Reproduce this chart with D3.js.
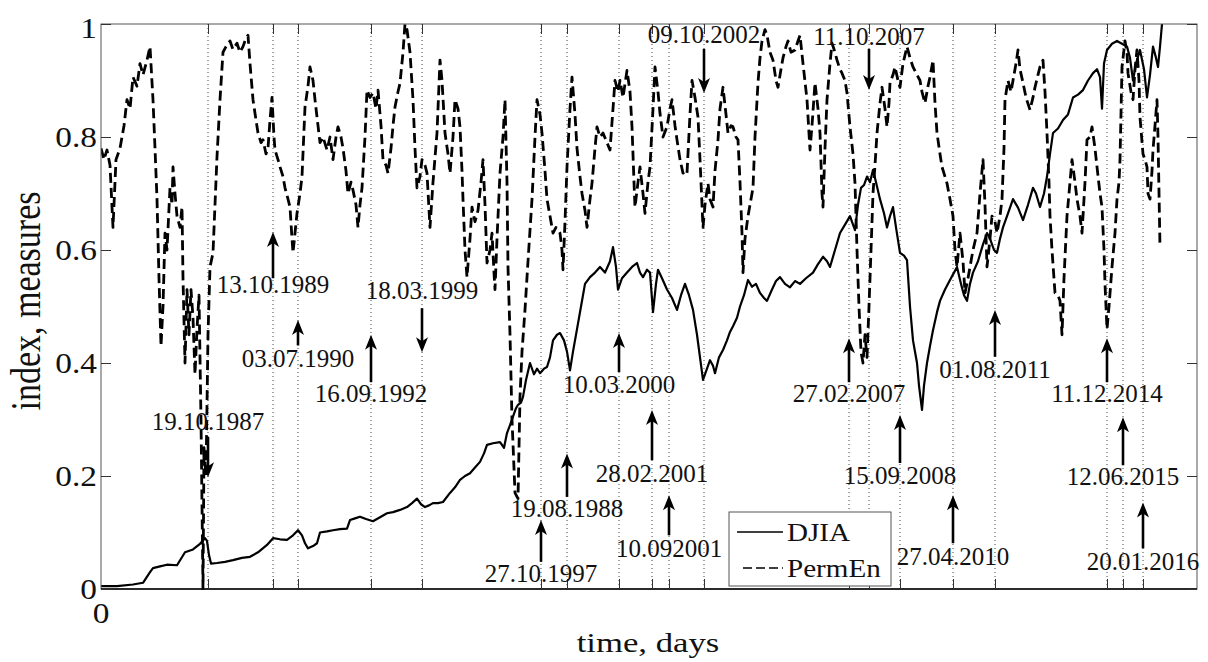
<!DOCTYPE html>
<html>
  <head>
    <script src="https://d3js.org/d3.v7.min.js"></script>
    <style>
      body { margin: 0; background: #fff; }
      text { font-family: "Liberation Serif", "Times New Roman", serif; fill: #111; }
      .grid line { stroke: #444; stroke-dasharray: 1 3; stroke-width: 1; }
      .date-label { font-size: 25px; text-anchor: middle; }
    </style>
  </head>
  <body>
    <svg id="chart" width="1208" height="662"></svg>
    <script>
      // ---- data (time in days, values normalised 0..1) ----
      const xMax = 8768;
      const yTicks = [0, 0.2, 0.4, 0.6, 0.8, 1];

      const djiaDays = [0,128,256,336,392,416,472,528,608,672,736,792,832,848,864,880,928,992,1056,1128,1192,1256,1328,1376,1432,1488,1536,1576,1608,1632,1656,1696,1728,1752,1808,1856,1912,1968,1992,2032,2072,2120,2176,2232,2288,2336,2392,2448,2488,2528,2560,2592,2624,2656,2696,2736,2792,2832,2872,2912,2952,2992,3032,3064,3088,3136,3192,3224,3248,3272,3296,3320,3336,3360,3376,3400,3432,3464,3488,3512,3544,3568,3592,3616,3648,3672,3704,3728,3752,3776,3808,3840,3872,3912,3952,3992,4032,4072,4096,4120,4136,4168,4208,4248,4288,4312,4336,4368,4392,4416,4440,4456,4488,4528,4568,4608,4640,4672,4704,4736,4768,4792,4816,4848,4872,4896,4912,4944,4976,5008,5032,5056,5088,5112,5144,5176,5208,5240,5272,5304,5328,5368,5400,5432,5472,5512,5552,5592,5640,5696,5736,5776,5808,5832,5872,5912,5952,5992,6016,6032,6056,6080,6104,6128,6152,6176,6200,6232,6264,6288,6312,6336,6360,6392,6424,6448,6472,6496,6512,6528,6544,6568,6584,6608,6632,6656,6688,6712,6752,6792,6824,6848,6880,6904,6928,6952,6976,7016,7056,7088,7112,7144,7168,7192,7216,7256,7296,7336,7376,7416,7456,7480,7512,7544,7568,7592,7616,7656,7696,7736,7776,7816,7856,7896,7936,7968,7992,8008,8024,8048,8088,8128,8168,8208,8232,8256,8280,8312,8344,8368,8392,8416,8440,8456,8472,8488];
      const djiaVals = [0.005,0.005,0.008,0.011,0.03,0.037,0.04,0.043,0.042,0.065,0.07,0.08,0.09,0.085,0.06,0.045,0.046,0.048,0.051,0.055,0.057,0.065,0.078,0.09,0.088,0.087,0.095,0.104,0.095,0.081,0.072,0.076,0.081,0.1,0.102,0.104,0.106,0.107,0.122,0.125,0.128,0.124,0.12,0.127,0.134,0.136,0.14,0.145,0.152,0.16,0.15,0.145,0.148,0.152,0.152,0.154,0.17,0.18,0.193,0.2,0.205,0.215,0.225,0.24,0.255,0.258,0.26,0.25,0.276,0.29,0.305,0.32,0.326,0.33,0.34,0.37,0.4,0.38,0.39,0.382,0.39,0.393,0.41,0.44,0.45,0.453,0.44,0.42,0.387,0.42,0.46,0.5,0.54,0.552,0.56,0.57,0.56,0.58,0.605,0.57,0.53,0.55,0.56,0.57,0.577,0.56,0.552,0.565,0.56,0.49,0.54,0.565,0.55,0.53,0.515,0.494,0.52,0.54,0.52,0.494,0.45,0.41,0.37,0.39,0.405,0.395,0.382,0.41,0.423,0.44,0.455,0.465,0.48,0.5,0.52,0.547,0.535,0.54,0.524,0.515,0.51,0.53,0.545,0.552,0.54,0.534,0.545,0.54,0.55,0.56,0.575,0.588,0.58,0.57,0.6,0.63,0.645,0.66,0.645,0.635,0.68,0.71,0.715,0.73,0.72,0.742,0.72,0.69,0.665,0.64,0.66,0.676,0.64,0.595,0.59,0.582,0.5,0.44,0.42,0.4,0.36,0.317,0.36,0.4,0.43,0.458,0.49,0.51,0.53,0.547,0.56,0.57,0.54,0.52,0.51,0.54,0.56,0.58,0.61,0.63,0.62,0.6,0.595,0.62,0.64,0.665,0.69,0.675,0.653,0.68,0.71,0.7,0.676,0.7,0.73,0.77,0.807,0.815,0.83,0.84,0.87,0.875,0.883,0.9,0.913,0.92,0.906,0.85,0.93,0.954,0.965,0.97,0.965,0.96,0.94,0.9,0.93,0.954,0.92,0.87,0.91,0.96,0.94,0.924,0.96,1.0];

      const permDays = [0,24,48,72,96,120,152,184,208,232,256,288,312,336,368,392,416,432,448,464,480,496,512,528,552,568,576,592,608,632,648,656,672,688,704,720,736,752,768,784,800,816,824,840,856,872,896,912,928,952,976,1000,1032,1056,1088,1112,1136,1160,1176,1192,1216,1240,1256,1280,1296,1320,1336,1352,1368,1384,1392,1416,1432,1456,1472,1496,1512,1528,1536,1552,1568,1592,1608,1632,1656,1672,1696,1712,1736,1752,1776,1808,1832,1856,1880,1896,1920,1936,1960,1976,2000,2016,2040,2056,2072,2088,2112,2128,2152,2176,2200,2216,2240,2256,2280,2296,2320,2336,2352,2376,2392,2416,2432,2448,2472,2496,2512,2528,2552,2568,2592,2608,2632,2656,2688,2712,2728,2752,2776,2792,2816,2832,2856,2872,2888,2896,2912,2928,2952,2968,2992,3016,3040,3056,3072,3088,3112,3128,3144,3152,3168,3192,3216,3232,3248,3256,3272,3288,3312,3336,3352,3368,3392,3416,3448,3472,3488,3512,3528,3552,3568,3592,3616,3640,3672,3688,3696,3712,3728,3752,3768,3792,3808,3832,3848,3872,3888,3912,3928,3952,3968,3992,4016,4048,4072,4096,4112,4136,4152,4176,4208,4232,4248,4264,4272,4296,4312,4336,4352,4376,4392,4416,4432,4456,4472,4496,4528,4552,4568,4592,4608,4632,4656,4680,4688,4712,4728,4752,4776,4792,4816,4832,4856,4872,4896,4912,4936,4952,4976,5000,5016,5040,5056,5080,5096,5112,5128,5136,5152,5176,5192,5216,5232,5256,5272,5288,5312,5328,5352,5376,5400,5416,5440,5456,5480,5496,5520,5552,5576,5592,5616,5648,5672,5688,5712,5736,5752,5768,5776,5792,5808,5832,5848,5872,5888,5912,5928,5952,5968,5992,6016,6032,6048,6064,6080,6096,6112,6128,6144,6160,6176,6192,6208,6232,6248,6272,6288,6304,6312,6336,6352,6376,6392,6416,6448,6472,6496,6528,6552,6568,6592,6616,6632,6656,6672,6688,6712,6728,6752,6768,6792,6816,6832,6848,6872,6896,6912,6936,6952,6976,7008,7032,7056,7072,7088,7112,7128,7152,7168,7192,7208,7224,7232,7256,7280,7296,7320,7336,7352,7376,7400,7432,7456,7472,7496,7512,7536,7552,7568,7584,7592,7608,7632,7656,7672,7688,7704,7728,7752,7768,7792,7808,7832,7848,7872,7888,7912,7928,7952,7968,7992,8008,8024,8032,8048,8064,8088,8112,8128,8144,8152,8168,8192,8208,8216,8240,8256,8272,8288,8304,8312,8336,8352,8368,8376,8392,8408,8416,8432,8448,8456,8472];
      const permVals = [0.78,0.76,0.777,0.75,0.64,0.76,0.78,0.82,0.866,0.85,0.906,0.89,0.93,0.91,0.936,0.96,0.866,0.78,0.69,0.55,0.43,0.5,0.63,0.6,0.71,0.68,0.747,0.7,0.66,0.64,0.676,0.55,0.4,0.53,0.45,0.53,0.48,0.38,0.46,0.52,0.3,0,0.25,0.2,0.45,0.57,0.595,0.68,0.765,0.866,0.95,0.96,0.97,0.955,0.966,0.95,0.96,0.975,0.98,0.93,0.866,0.83,0.807,0.79,0.795,0.77,0.78,0.83,0.87,0.8,0.777,0.76,0.747,0.73,0.71,0.69,0.676,0.62,0.595,0.63,0.665,0.7,0.73,0.853,0.89,0.924,0.9,0.866,0.82,0.79,0.8,0.777,0.8,0.76,0.8,0.818,0.8,0.78,0.74,0.7,0.72,0.706,0.68,0.64,0.68,0.71,0.8,0.883,0.87,0.878,0.85,0.883,0.82,0.76,0.75,0.736,0.78,0.82,0.853,0.88,0.895,0.95,1.0,0.99,0.95,0.866,0.78,0.71,0.73,0.76,0.75,0.736,0.64,0.72,0.807,0.936,0.9,0.807,0.77,0.736,0.8,0.866,0.85,0.818,0.74,0.69,0.6,0.552,0.62,0.676,0.65,0.67,0.72,0.76,0.68,0.577,0.6,0.63,0.56,0.53,0.62,0.736,0.8,0.866,0.72,0.57,0.45,0.3,0.17,0.16,0.34,0.42,0.494,0.58,0.69,0.8,0.866,0.84,0.807,0.74,0.69,0.66,0.63,0.64,0.63,0.6,0.565,0.65,0.747,0.85,0.906,0.84,0.78,0.73,0.7,0.67,0.64,0.69,0.718,0.78,0.818,0.8,0.807,0.79,0.777,0.85,0.9,0.88,0.9,0.87,0.918,0.88,0.818,0.72,0.676,0.72,0.747,0.7,0.665,0.72,0.747,0.85,0.924,0.88,0.842,0.8,0.818,0.85,0.866,0.82,0.795,0.76,0.736,0.74,0.736,0.84,0.9,0.87,0.835,0.76,0.64,0.68,0.718,0.69,0.676,0.74,0.795,0.85,0.888,0.84,0.807,0.82,0.818,0.8,0.795,0.72,0.63,0.56,0.62,0.66,0.68,0.71,0.8,0.896,0.94,0.97,0.99,0.98,0.95,0.936,0.9,0.888,0.92,0.94,0.96,0.97,0.95,0.954,0.97,0.98,0.93,0.866,0.777,0.82,0.896,0.85,0.807,0.7,0.676,0.78,0.866,0.93,0.966,0.95,0.936,0.92,0.913,0.9,0.878,0.818,0.77,0.718,0.6,0.5,0.42,0.4,0.45,0.41,0.5,0.6,0.7,0.75,0.807,0.86,0.888,0.85,0.818,0.86,0.896,0.91,0.924,0.9,0.888,0.93,0.96,0.94,0.924,0.91,0.9,0.88,0.86,0.89,0.906,0.936,0.86,0.807,0.77,0.747,0.73,0.718,0.69,0.66,0.6,0.57,0.63,0.58,0.524,0.55,0.57,0.6,0.63,0.7,0.76,0.68,0.57,0.62,0.66,0.65,0.63,0.66,0.69,0.78,0.866,0.9,0.88,0.9,0.93,0.954,0.92,0.896,0.87,0.848,0.87,0.888,0.91,0.924,0.936,0.88,0.807,0.72,0.66,0.6,0.524,0.52,0.51,0.45,0.55,0.66,0.72,0.76,0.72,0.69,0.66,0.63,0.72,0.795,0.8,0.818,0.78,0.747,0.7,0.676,0.6,0.54,0.46,0.5,0.57,0.63,0.69,0.72,0.76,0.924,0.97,0.95,0.913,0.88,0.866,0.92,0.954,0.9,0.835,0.77,0.76,0.747,0.7,0.69,0.74,0.777,0.82,0.866,0.8,0.605];

      // events: day of the vertical line, label, arrow tail/tip and label baseline (data units)
      const eventDays   = [856,1376,1576,2160,2568,3520,3728,4144,4408,4544,4824,5984,6144,6392,6816,7152,8048,8176,8336];
      const eventLabels = ["19.10.1987","13.10.1989","03.07.1990","16.09.1992","18.03.1999","27.10.1997","19.08.1988","10.03.2000","28.02.2001","10.092001","09.10.2002","27.02.2007","11.10.2007","15.09.2008","27.04.2010","01.08.2011","11.12.2014","12.06.2015","20.01.2016"];
      const arrowTail   = [0.269,0.55,0.431,0.366,0.497,0.048,0.163,0.384,0.228,0.095,0.956,0.366,0.956,0.223,0.081,0.411,0.366,0.219,0.072];
      const arrowTip    = [0.198,0.632,0.476,0.45,0.419,0.122,0.24,0.453,0.317,0.166,0.878,0.444,0.883,0.308,0.166,0.494,0.444,0.304,0.153];
      const labelBase   = [0.281,0.524,0.393,0.331,0.513,0.012,0.127,0.347,0.189,0.057,0.966,0.331,0.963,0.186,0.043,0.374,0.331,0.184,0.034];

      const seriesNames = ["DJIA", "PermEn"];

      // ---- layout ----
      const svg = d3.select("#chart");
      const margin = {top: 24, right: 11, bottom: 73, left: 101};
      const W = +svg.attr("width"), H = +svg.attr("height");
      const plotW = W - margin.left - margin.right;
      const plotH = H - margin.top - margin.bottom;

      const x = d3.scaleLinear().domain([0, xMax]).range([margin.left, margin.left + plotW]);
      const y = d3.scaleLinear().domain([0, 1]).range([margin.top + plotH, margin.top]);

      svg.append("rect").attr("width", W).attr("height", H).attr("fill", "#fff");

      svg.append("defs").append("clipPath").attr("id", "clip")
        .append("rect")
        .attr("x", margin.left).attr("y", margin.top - 1)
        .attr("width", plotW).attr("height", plotH + 2);

      // dotted grid at event days
      svg.append("g").attr("class", "grid")
        .selectAll("line").data(eventDays).join("line")
        .attr("x1", d => x(d)).attr("x2", d => x(d))
        .attr("y1", y(1)).attr("y2", y(0));

      // lines
      const djia = djiaDays.map((d, i) => [d, djiaVals[i]]);
      const perm = permDays.map((d, i) => [d, permVals[i]]);
      const line = d3.line().x(d => x(d[0])).y(d => y(d[1]));

      const plot = svg.append("g").attr("clip-path", "url(#clip)");
      plot.append("path").datum(djia)
        .attr("d", line).attr("fill", "none")
        .attr("stroke", "#000").attr("stroke-width", 2.2).attr("stroke-linejoin", "round");
      plot.append("path").datum(perm)
        .attr("d", line).attr("fill", "none")
        .attr("stroke", "#000").attr("stroke-width", 2.8)
        .attr("stroke-dasharray", "10 5").attr("stroke-linejoin", "round");

      // frame
      svg.append("rect")
        .attr("x", margin.left).attr("y", margin.top)
        .attr("width", plotW).attr("height", plotH)
        .attr("fill", "none").attr("stroke", "#555").attr("stroke-width", 1);
      svg.append("line")
        .attr("x1", margin.left).attr("x2", margin.left + plotW)
        .attr("y1", y(0)).attr("y2", y(0))
        .attr("stroke", "#000").attr("stroke-width", 1.5);

      // inward ticks (matlab style)
      const tickLen = 10;
      const yAxisL = d3.axisLeft(y).tickValues(yTicks).tickSizeInner(-tickLen).tickSizeOuter(0).tickFormat("");
      const yAxisR = d3.axisRight(y).tickValues(yTicks).tickSizeInner(-tickLen).tickSizeOuter(0).tickFormat("");
      const xAxisB = d3.axisBottom(x).tickValues(eventDays).tickSizeInner(-tickLen).tickSizeOuter(0).tickFormat("");
      const xAxisT = d3.axisTop(x).tickValues(eventDays).tickSizeInner(-tickLen).tickSizeOuter(0).tickFormat("");
      [[yAxisL, `translate(${margin.left},0)`], [yAxisR, `translate(${margin.left + plotW},0)`],
       [xAxisB, `translate(0,${y(0)})`], [xAxisT, `translate(0,${y(1)})`]].forEach(([ax, tr]) => {
        const g = svg.append("g").attr("transform", tr).call(ax);
        g.select(".domain").remove();
        g.selectAll("line").attr("stroke", "#333");
      });

      // y tick labels
      svg.append("g").selectAll("text").data(yTicks).join("text")
        .attr("transform", d => `translate(97,${Math.max(y(d), 28)}) scale(1.15,1)`)
        .attr("text-anchor", "end")
        .attr("dominant-baseline", "central")
        .style("font-size", "29px")
        .text(d => d3.format("~g")(d));

      // x tick label (only the origin)
      svg.append("text")
        .attr("transform", `translate(${x(0)},623) scale(1.15,1)`)
        .attr("text-anchor", "middle")
        .style("font-size", "29px")
        .text("0");

      // axis titles
      svg.append("text")
        .attr("transform", `translate(648,652) scale(1.24,1)`)
        .attr("text-anchor", "middle")
        .style("font-size", "28px")
        .text("time, days");
      svg.append("text")
        .attr("transform", `translate(40,301) scale(1.25,1) rotate(-90)`)
        .attr("text-anchor", "middle")
        .style("font-size", "34px")
        .text("index, measures");

      // event arrows + labels
      const ev = eventDays.map((d, i) => ({day: d, label: eventLabels[i], tail: arrowTail[i], tip: arrowTip[i], base: labelBase[i]}));
      const arrows = svg.append("g");
      ev.forEach(e => {
        const ex = x(e.day), y0 = y(e.tail), y1 = y(e.tip);
        const dir = y1 > y0 ? 1 : -1; // +1 pointing down
        arrows.append("line")
          .attr("x1", ex).attr("x2", ex)
          .attr("y1", y0).attr("y2", y1 - dir * 8)
          .attr("stroke", "#000").attr("stroke-width", 2.6);
        arrows.append("path")
          .attr("d", `M${ex},${y1} L${ex - 6},${y1 - dir * 15} L${ex},${y1 - dir * 11} L${ex + 6},${y1 - dir * 15} Z`)
          .attr("fill", "#000");
        arrows.append("text")
          .attr("class", "date-label")
          .attr("x", ex).attr("y", y(e.base))
          .text(e.label);
      });

      // legend
      const lg = svg.append("g").attr("transform", "translate(729,512)");
      lg.append("rect").attr("width", 162).attr("height", 74)
        .attr("fill", "#fff").attr("stroke", "#555").attr("stroke-width", 1);
      seriesNames.forEach((name, i) => {
        const ly = 20 + i * 36;
        lg.append("line")
          .attr("x1", i ? 14 : 8).attr("x2", 54).attr("y1", ly).attr("y2", ly)
          .attr("stroke", "#000").attr("stroke-width", 1.6)
          .attr("stroke-dasharray", i ? "9 4" : null);
        lg.append("text")
          .attr("transform", `translate(58,${ly + 9}) scale(1.12,1)`)
          .style("font-size", "26px")
          .text(name);
      });
    </script>
  </body>
</html>
